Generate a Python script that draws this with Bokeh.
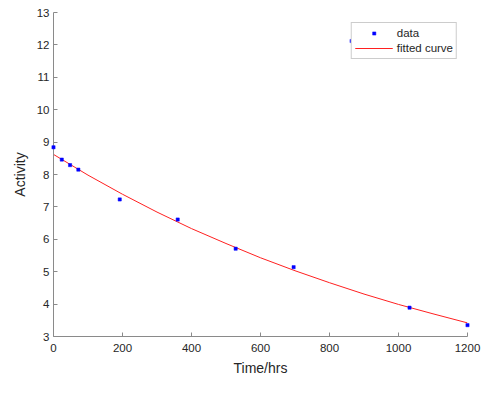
from bokeh.plotting import figure
from bokeh.models import Range1d, Legend, LegendItem, FixedTicker
from bokeh.embed import file_html
from bokeh.resources import INLINE

# data points
time_hrs = [0, 24, 48, 72, 192, 360, 528, 696, 864, 1032, 1200]
activity = [8.84, 8.46, 8.29, 8.15, 7.23, 6.61, 5.71, 5.14, 12.12, 3.89, 3.35]

# fitted curve
fit_t = [0, 100, 200, 300, 400, 500, 600, 700, 800, 900, 1000, 1100, 1200]
fit_y = [8.62, 7.98, 7.39, 6.84, 6.33, 5.87, 5.43, 5.03, 4.66, 4.31, 3.99, 3.70, 3.42]

x_ticks = [0, 200, 400, 600, 800, 1000, 1200]
y_ticks = [3, 4, 5, 6, 7, 8, 9, 10, 11, 12, 13]

FONT = "Liberation Sans"
TXT = "#262626"
AX = "#8a8a8a"

p = figure(width=481, height=378, output_backend="svg", toolbar_location=None,
           x_range=Range1d(0, 1200), y_range=Range1d(3, 13),
           min_border_left=53, min_border_right=14, min_border_top=12, min_border_bottom=40)
p.outline_line_color = None
p.xgrid.visible = False
p.ygrid.visible = False

line = p.line(fit_t, fit_y, line_color="#ff2020", line_width=1)
dots = p.scatter(time_hrs, activity, size=3.2, marker="square", fill_color="#0000ff",
                 line_color="#0000ff", line_width=0.5, level="overlay")

for ax in (p.xaxis[0], p.yaxis[0]):
    ax.axis_line_color = AX
    ax.major_tick_line_color = AX
    ax.major_tick_in = 4
    ax.major_tick_out = 0
    ax.minor_tick_line_color = None
    ax.major_label_text_font = FONT
    ax.major_label_text_font_size = "11.5px"
    ax.major_label_text_color = TXT
    ax.axis_label_text_font = FONT
    ax.axis_label_text_font_size = "14px"
    ax.axis_label_text_font_style = "normal"
    ax.axis_label_text_color = TXT

p.xaxis.ticker = FixedTicker(ticks=x_ticks)
p.yaxis.ticker = FixedTicker(ticks=y_ticks)
p.xaxis.axis_label = "Time/hrs"
p.yaxis.axis_label = "Activity"
p.xaxis.major_label_standoff = 7
p.yaxis.major_label_standoff = 4
p.xaxis.axis_label_standoff = 5
p.yaxis.axis_label_standoff = 6

legend = Legend(items=[LegendItem(label="data", renderers=[dots]),
                       LegendItem(label="fitted curve", renderers=[line])],
                location="top_right", margin=10, padding=3, spacing=1,
                label_height=14, glyph_height=8, glyph_width=38, label_standoff=4,
                border_line_color="#999999", background_fill_color="white",
                background_fill_alpha=1.0,
                label_text_font=FONT, label_text_font_size="11.5px", label_text_color=TXT)
p.add_layout(legend)

open("out.html", "w").write(file_html(p, INLINE))
